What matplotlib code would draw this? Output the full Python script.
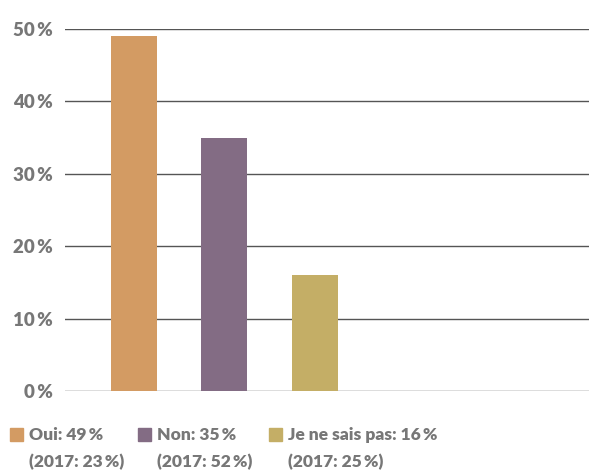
import matplotlib.pyplot as plt
from matplotlib.patches import Rectangle

plt.rcParams['font.family'] = ['Lato', 'DejaVu Sans']

categories = ['Oui', 'Non', 'Je ne sais pas']
values = [49, 35, 16]
values_2017 = [23, 52, 25]
colors = ['#D39B63', '#836C84', '#C4AE66']
yticks = [0, 10, 20, 30, 40, 50]

text_color = '#777777'

fig = plt.figure(figsize=(5.89, 4.72), dpi=100)
W, H = 589, 472
ax = fig.add_axes([65 / W, 81 / H, 524 / W, 362 / H])

x = list(range(len(categories)))
ax.bar(x, values, width=0.51, color=colors, zorder=3)

ax.set_xlim(-0.762, 5.03)
ax.set_ylim(0, 50)
ax.set_yticks(yticks)
ax.set_yticklabels([f'{t}\u2009%' for t in yticks], fontsize=13.5, fontweight='heavy',
                   color=text_color)
ax.tick_params(axis='y', length=0, pad=9)
ax.set_xticks([])
ax.yaxis.grid(True, color='#555555', linewidth=1.0, zorder=1)
for s in ax.spines.values():
    s.set_visible(False)

# legend below the chart, built by hand
legend_x = [10, 138, 269]
for lx, cat, v, v17, c in zip(legend_x, categories, values, values_2017, colors):
    fig.add_artist(Rectangle((lx / W, (H - 441) / H), 13 / W, 13 / H,
                             transform=fig.transFigure, color=c))
    fig.text((lx + 19) / W, (H - 435) / H, f'{cat}: {v}\u2009%', fontsize=12.5,
             fontweight='heavy', color=text_color, va='center', ha='left')
    fig.text((lx + 19) / W, (H - 462) / H, f'(2017: {v17}\u2009%)', fontsize=12.5,
             fontweight='heavy', color=text_color, va='center', ha='left')

fig.savefig('out.png', dpi=100)
